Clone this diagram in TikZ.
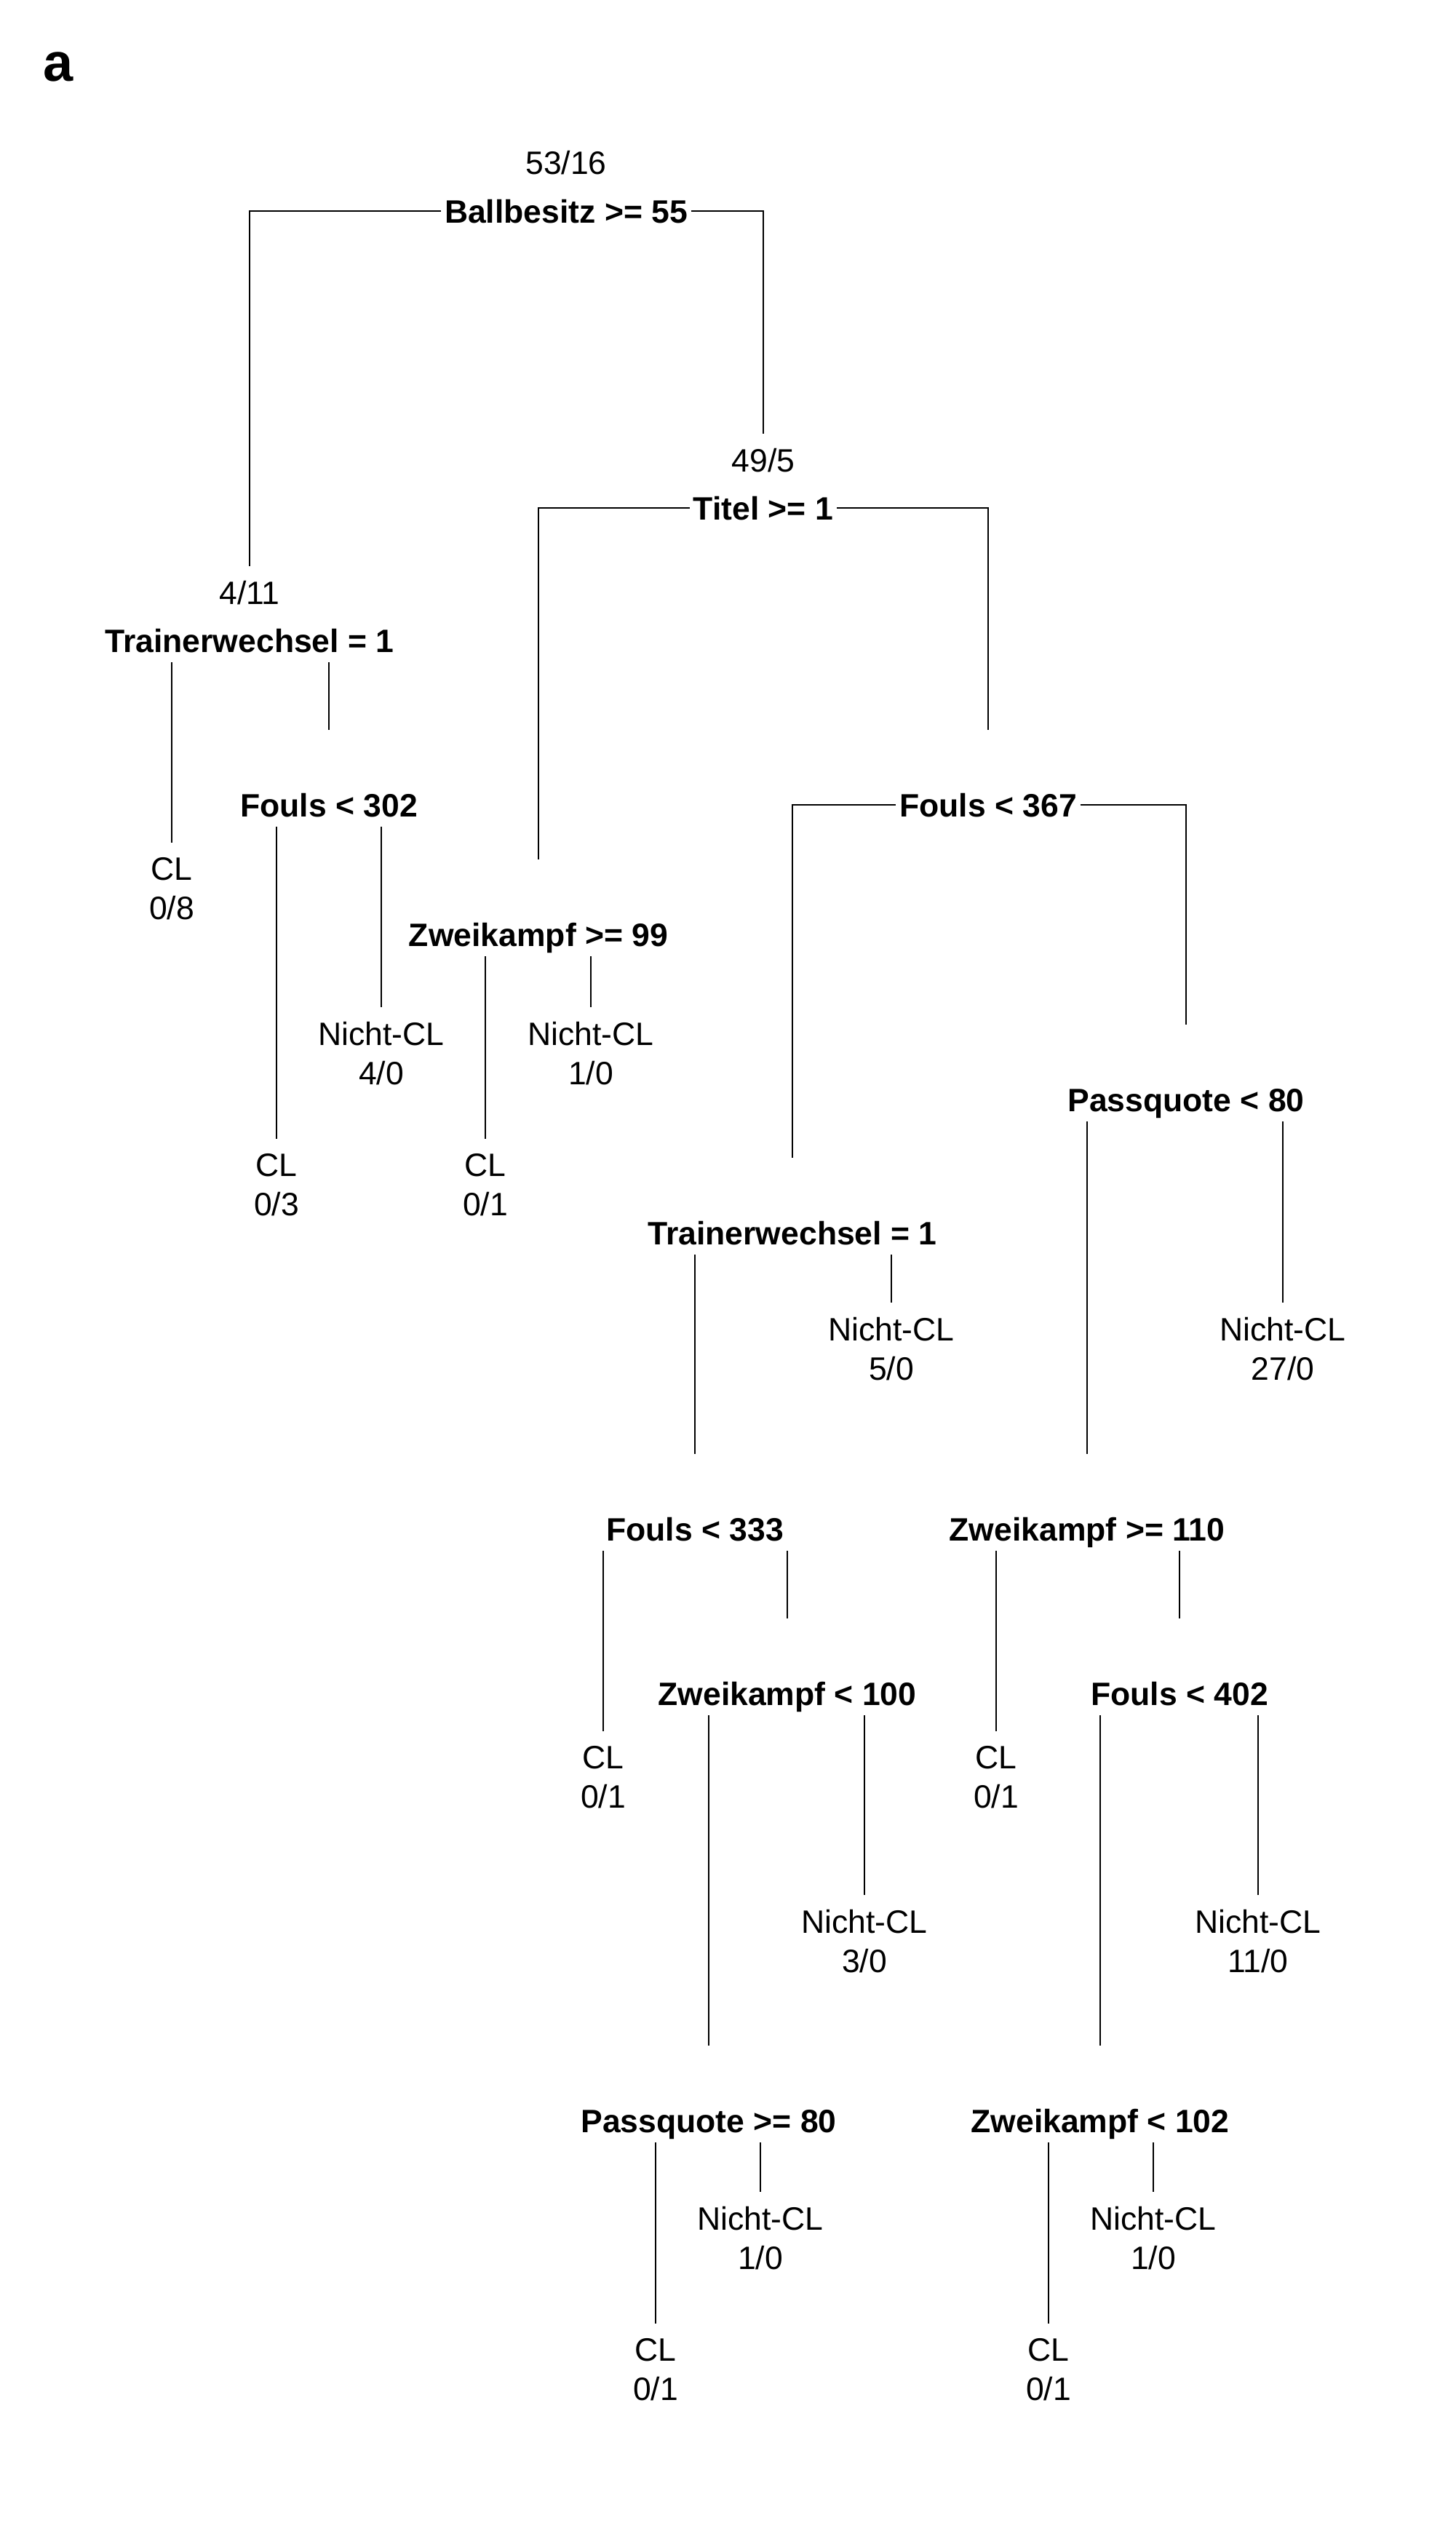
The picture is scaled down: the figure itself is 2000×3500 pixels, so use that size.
\documentclass[tikz,border=0pt]{standalone}
\usepackage{fontspec}
\setmainfont{Liberation Sans}
\usetikzlibrary{calc}
\tikzset{
  split/.style={font=\fontsize{44.5}{54}\selectfont\bfseries, text height=32pt, text depth=0pt,
    inner xsep=5pt, inner ysep=14pt, outer sep=0pt, anchor=base},
  leaf/.style={font=\fontsize{44.5}{54}\selectfont, align=center, inner xsep=0pt, inner ysep=20pt,
    outer sep=0pt, anchor=north},
  count/.style={font=\fontsize{44.5}{54}\selectfont, inner xsep=0pt, inner ysep=20pt, outer sep=0pt, anchor=base},
  edge/.style={line width=2.2pt, draw=black}
}
\begin{document}
\begin{tikzpicture}[x=1pt,y=-1pt]
\useasboundingbox (0,0) rectangle (2000,3500);
\node[font=\fontsize{74}{80}\selectfont\bfseries, anchor=base west, inner sep=0pt] (panel) at (59,112) {a};
% counts
\node[count] (c5316) at (778,240) {53/16};
\node[count] (c495) at (1049,648) {49/5};
\node[count] (c411) at (343,830) {4/11};
% splits
\node[split] (bb) at (778,306) {Ballbesitz >= 55};
\node[split] (titel) at (1049,714) {Titel >= 1};
\node[split] (tw1) at (343,896) {Trainerwechsel = 1};
\node[split] (f302) at (452,1122) {Fouls < 302};
\node[split] (z99) at (740,1300) {Zweikampf >= 99};
\node[split] (f367) at (1358,1122) {Fouls < 367};
\node[split] (p80) at (1630,1527) {Passquote < 80};
\node[split] (tw2) at (1089,1710) {Trainerwechsel = 1};
\node[split] (f333) at (955,2117) {Fouls < 333};
\node[split] (z110) at (1494,2117) {Zweikampf >= 110};
\node[split] (z100) at (1082,2343) {Zweikampf < 100};
\node[split] (f402) at (1621,2343) {Fouls < 402};
\node[split] (p80b) at (974,2930) {Passquote >= 80};
\node[split] (z102) at (1512,2930) {Zweikampf < 102};
% tops of unlabelled split children
\foreach \n in {f302,z99,f367,p80,tw2,f333,z110,z100,f402,p80b,z102}{
  \coordinate (\n t) at ($(\n.base)+(0,-119)$);
}
% leaves
\node[leaf] (cl08) at (236,1158) {CL\\0/8};
\node[leaf] (nc40) at (524,1384) {Nicht-CL\\4/0};
\node[leaf] (cl03) at (380,1565) {CL\\0/3};
\node[leaf] (nc10a) at (812,1384) {Nicht-CL\\1/0};
\node[leaf] (cl01a) at (667,1565) {CL\\0/1};
\node[leaf] (nc50) at (1225,1790) {Nicht-CL\\5/0};
\node[leaf] (nc270) at (1763,1790) {Nicht-CL\\27/0};
\node[leaf] (cl01b) at (829,2379) {CL\\0/1};
\node[leaf] (cl01c) at (1369,2379) {CL\\0/1};
\node[leaf] (nc30) at (1188,2604) {Nicht-CL\\3/0};
\node[leaf] (nc110) at (1729,2604) {Nicht-CL\\11/0};
\node[leaf] (nc10b) at (1045,3012) {Nicht-CL\\1/0};
\node[leaf] (nc10c) at (1585,3012) {Nicht-CL\\1/0};
\node[leaf] (cl01d) at (901,3193) {CL\\0/1};
\node[leaf] (cl01e) at (1441,3193) {CL\\0/1};
% bars
\draw[edge] (bb.west) -| (c411.north);
\draw[edge] (bb.east) -| (c495.north);
\draw[edge] (titel.west) -| (z99t);
\draw[edge] (titel.east) -| (f367t);
\draw[edge] (f367.west) -| (tw2t);
\draw[edge] (f367.east) -| (p80t);
% vertical branches
\draw[edge] (tw1.south -| cl08.north) -- (cl08.north);
\draw[edge] (tw1.south -| f302t) -- (f302t);
\draw[edge] (f302.south -| cl03.north) -- (cl03.north);
\draw[edge] (f302.south -| nc40.north) -- (nc40.north);
\draw[edge] (z99.south -| cl01a.north) -- (cl01a.north);
\draw[edge] (z99.south -| nc10a.north) -- (nc10a.north);
\draw[edge] (p80.south -| z110t) -- (z110t);
\draw[edge] (p80.south -| nc270.north) -- (nc270.north);
\draw[edge] (tw2.south -| f333t) -- (f333t);
\draw[edge] (tw2.south -| nc50.north) -- (nc50.north);
\draw[edge] (f333.south -| cl01b.north) -- (cl01b.north);
\draw[edge] (f333.south -| z100t) -- (z100t);
\draw[edge] (z110.south -| cl01c.north) -- (cl01c.north);
\draw[edge] (z110.south -| f402t) -- (f402t);
\draw[edge] (z100.south -| p80bt) -- (p80bt);
\draw[edge] (z100.south -| nc30.north) -- (nc30.north);
\draw[edge] (f402.south -| z102t) -- (z102t);
\draw[edge] (f402.south -| nc110.north) -- (nc110.north);
\draw[edge] (p80b.south -| cl01d.north) -- (cl01d.north);
\draw[edge] (p80b.south -| nc10b.north) -- (nc10b.north);
\draw[edge] (z102.south -| cl01e.north) -- (cl01e.north);
\draw[edge] (z102.south -| nc10c.north) -- (nc10c.north);
\end{tikzpicture}
\end{document}
